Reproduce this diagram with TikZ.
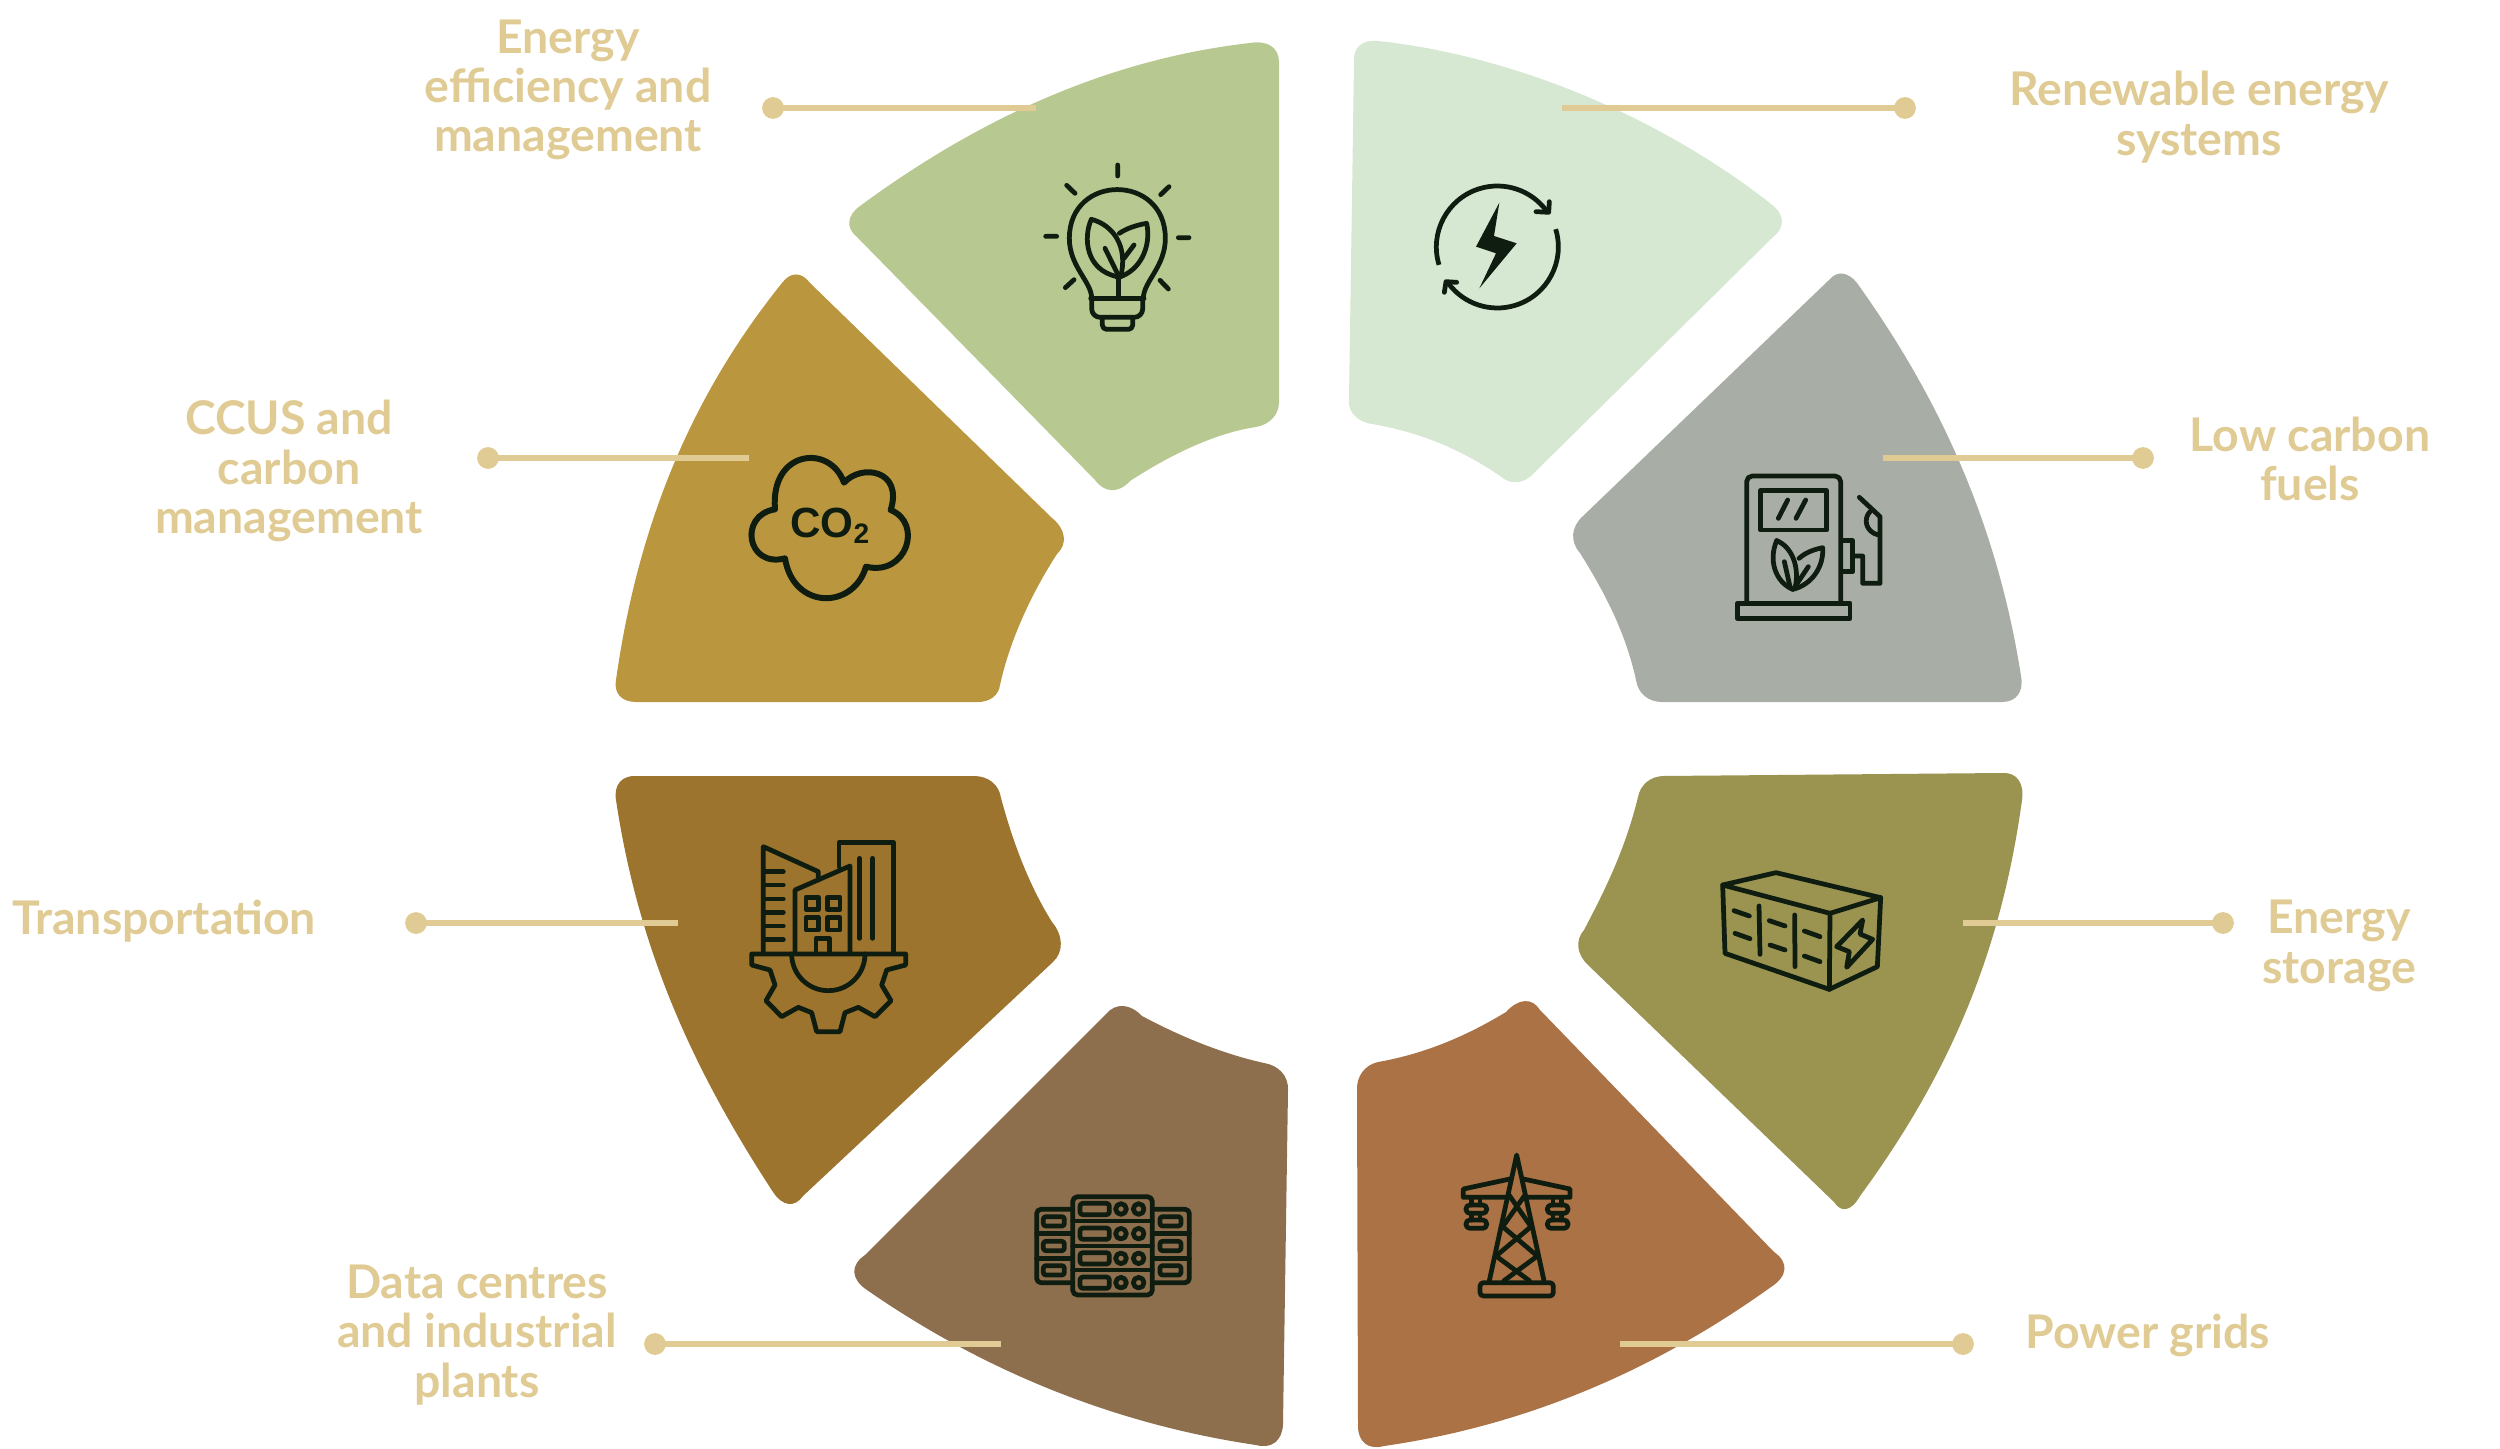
\documentclass[tikz,border=0pt]{standalone}
\usepackage{fontspec}
\setmainfont{Lato}
\newfontfamily\iconfont{Liberation Sans}
\usepackage{xcolor}
\usetikzlibrary{positioning,calc}
\definecolor{renewcol}{HTML}{D6E7D2}
\definecolor{fuelcol}{HTML}{A8AEA5}
\definecolor{storecol}{HTML}{9B9350}
\definecolor{gridcol}{HTML}{AA7245}
\definecolor{datacol}{HTML}{8D6F4E}
\definecolor{transcol}{HTML}{9C742D}
\definecolor{ccuscol}{HTML}{BA963F}
\definecolor{effcol}{HTML}{B7C891}
\definecolor{labelcol}{HTML}{DFCB93}
\definecolor{inkcol}{HTML}{0F1C10}
\tikzset{
  label/.style={align=center, text=labelcol, font=\fontsize{13.2}{14.05}\selectfont\bfseries, inner sep=0pt},
  dotnode/.style={circle, fill=labelcol, minimum size=6.2pt, inner sep=0pt},
  leader/.style={draw=labelcol, line width=1.65pt},
  ink/.style={draw=inkcol, line width=1.35pt, line join=round, line cap=round},
  icon/.style={shift={#1}, scale=1/3}
}
\def\rc(#1)(#2)(#3){.. controls ($(#1)!.6!(#2)$) and ($(#3)!.6!(#2)$) .. (#3)}
\begin{document}
\begin{tikzpicture}[x=0.01cm, y=-0.01cm]
  \useasboundingbox (0,0) rectangle (2500,1449);

  \fill[renewcol] (1378,41) .. controls (1510,55) and (1658,115) .. (1771,204)
    \rc(1771,204)(1794,221)(1773,237) -- (1535,472) \rc(1535,472)(1518,492)(1500,476)
    .. controls (1455,445) and (1412,431) .. (1372,424) \rc(1372,424)(1346,420)(1349,398)
    -- (1354,62) \rc(1354,62)(1352,38)(1378,41) -- cycle;
  \fill[fuelcol] (1857,283) .. controls (1930,385) and (1995,510) .. (2021,676)
    \rc(2021,676)(2026,702)(2002,702) -- (1662,702) \rc(1662,702)(1639,702)(1636,680)
    .. controls (1625,630) and (1603,590) .. (1580,553) \rc(1580,553)(1563,534)(1583,516)
    -- (1829,280) \rc(1829,280)(1842,264)(1857,283) -- cycle;
  \fill[storecol] (2003,773) -- (1664,776) \rc(1664,776)(1642,776)(1638,797)
    .. controls (1625,850) and (1605,890) .. (1584,930) \rc(1584,930)(1569,947)(1588,965)
    -- (1834,1202) \rc(1834,1202)(1846,1221)(1860,1196)
    .. controls (1945,1080) and (2000,960) .. (2022,800) \rc(2022,800)(2026,772)(2003,773) -- cycle;
  \fill[gridcol] (1774,1252) -- (1540,1010) \rc(1540,1010)(1527,989)(1506,1012)
    .. controls (1460,1040) and (1418,1055) .. (1378,1062) \rc(1378,1062)(1356,1067)(1357,1090)
    -- (1358,1426) \rc(1358,1426)(1358,1453)(1384,1446)
    .. controls (1530,1425) and (1658,1368) .. (1771,1287) \rc(1771,1287)(1799,1269)(1774,1252) -- cycle;
  \fill[datacol] (865,1255) -- (1106,1014) \rc(1106,1014)(1122,995)(1142,1016)
    .. controls (1187,1040) and (1228,1055) .. (1264,1063) \rc(1264,1063)(1289,1067)(1288,1090)
    -- (1283,1424) \rc(1283,1424)(1282,1452)(1256,1445)
    .. controls (1120,1425) and (988,1374) .. (867,1290) \rc(867,1290)(840,1272)(865,1255) -- cycle;
  \fill[transcol] (636,776) -- (974,776) \rc(974,776)(998,776)(1001,798)
    .. controls (1015,850) and (1032,890) .. (1052,922) \rc(1052,922)(1071,945)(1053,962)
    -- (803,1196) \rc(803,1196)(789,1216)(773,1192)
    .. controls (700,1080) and (640,960) .. (616,800) \rc(616,800)(612,775)(636,776) -- cycle;
  \fill[ccuscol] (636,702) -- (978,702) \rc(978,702)(998,702)(1000,685)
    .. controls (1012,630) and (1040,580) .. (1057,554) \rc(1057,554)(1075,537)(1052,518)
    -- (810,283) \rc(810,283)(796,264)(782,283)
    .. controls (700,385) and (640,510) .. (616,680) \rc(616,680)(612,702)(636,702) -- cycle;
  \fill[effcol] (1279,62) -- (1279,402) \rc(1279,402)(1279,423)(1256,427)
    .. controls (1215,433) and (1170,455) .. (1130,481) \rc(1130,481)(1111,502)(1095,480)
    -- (857,237) \rc(857,237)(838,222)(860,206)
    .. controls (970,125) and (1100,60) .. (1250,43) \rc(1250,43)(1279,38)(1279,62) -- cycle;

  \node[dotnode] (renewdot) at (1905,108) {};
  \node[dotnode] (fueldot) at (2143,458) {};
  \node[dotnode] (storedot) at (2223,923) {};
  \node[dotnode] (griddot) at (1963,1344) {};
  \node[dotnode] (datadot) at (655,1344) {};
  \node[dotnode] (transdot) at (416,923) {};
  \node[dotnode] (ccusdot) at (488,458) {};
  \node[dotnode] (effdot) at (773,108) {};
  \coordinate (renewend) at (1562,108);
  \coordinate (fuelend) at (1883,458);
  \coordinate (storeend) at (1963,923);
  \coordinate (gridend) at (1620,1344);
  \coordinate (dataend) at (1001,1344);
  \coordinate (transend) at (678,923);
  \coordinate (ccusend) at (749,458);
  \coordinate (effend) at (1036,108);
  \foreach \n in {renew,fuel,store,grid,data,trans,ccus,eff}
    \draw[leader] (\n dot.center) -- (\n end);

  \node[label] (renewlab) at (2199,117) {Renewable energy\\systems};
  \node[label] (fuellab) at (2310,459) {Low carbon\\fuels};
  \node[label] (storelab) at (2339,946) {Energy\\storage};
  \node[label] (gridlab) at (2148,1335) {Power grids};
  \node[label] (datalab) at (477,1335) {Data centres\\and industrial\\plants};
  \node[label] (translab) at (164,921) {Transportation};
  \node[label] (ccuslab) at (289,471) {CCUS and\\carbon\\management};
  \node[label] (efflab) at (568,90) {Energy\\efficiency and\\management};

  % bulb
  \begin{scope}[icon={(1000,130)}]
    \draw[ink] (353,105) -- (353,138) (200,166) -- (225,190) (507,170) -- (482,194)
      (137,319) -- (170,319) (535,323) -- (567,323) (222,449) -- (196,473) (480,451) -- (505,477);
    \draw[ink] (275,505) .. controls (275,455) and (208,410) .. (208,325)
      .. controls (208,130) and (496,130) .. (496,325) .. controls (496,410) and (430,455) .. (430,505);
    \draw[ink] (272,505) -- (432,505);
    \draw[ink, rounded corners=2.4pt] (275,505) -- (275,562) -- (428,562) -- (428,505);
    \draw[ink, rounded corners=1.2pt] (307,565) -- (307,598) -- (398,598) -- (398,565);
    \draw[ink] (355,445) -- (355,500);
    \draw[ink] (274,268) .. controls (250,320) and (255,420) .. (352,440);
    \draw[ink] (274,268) .. controls (340,285) and (385,350) .. (362,440);
    \draw[ink] (358,310) .. controls (380,295) and (410,285) .. (440,280) .. controls (455,350) and (420,425) .. (352,443);
    \draw[ink] (315,355) -- (352,430) (372,385) -- (402,345);
  \end{scope}

  % arrows and bolt
  \begin{scope}[icon={(1390,150)}]
    \draw[ink, line cap=butt] (322,291) ++(163:183) arc[start angle=163, end angle=324, radius=183];
    \draw[ink, line cap=butt] (322,291) ++(-17:183) arc[start angle=-17, end angle=143, radius=183];
    \draw[ink] (438,185) -- (476,187) -- (478,155);
    \draw[ink] (200,397) -- (168,395) -- (163,427);
    \fill[inkcol] (328,158) -- (312,258) -- (380,280) -- (268,415) -- (318,310) -- (258,290) -- cycle;
  \end{scope}

  % fuel pump
  \begin{scope}[icon={(1700,450)}]
    \draw[ink, rounded corners=1.6pt] (140,460) -- (140,78) -- (422,78) -- (422,460);
    \draw[ink] (112,460) rectangle (450,505);
    \draw[ink] (182,122) rectangle (380,240);
    \draw[ink] (235,205) -- (263,150) (288,205) -- (317,150);
    \draw[ink] (230,272) .. controls (205,330) and (225,395) .. (278,418);
    \draw[ink] (230,272) .. controls (275,290) and (300,350) .. (285,415);
    \draw[ink] (297,325) .. controls (320,305) and (345,298) .. (368,293) .. controls (372,350) and (335,405) .. (278,418);
    \draw[ink] (253,335) -- (270,410) (325,350) -- (285,410);
    \draw[ink] (425,272) -- (458,272) -- (458,365) -- (425,365);
    \draw[ink] (458,318) -- (488,318) -- (488,400) -- (540,400) -- (540,200) -- (478,142);
    \draw[ink] (510,185) .. controls (490,205) and (495,245) .. (535,255);
  \end{scope}

  % container
  \begin{scope}[icon={(1690,850)}]
    \draw[ink] (98,105) -- (258,68) -- (572,143) -- (420,190) -- cycle;
    \draw[ink] (98,105) -- (105,310) -- (418,418) -- (420,190);
    \draw[ink] (572,143) -- (562,350) -- (418,418);
    \draw[ink] (207,168) -- (210,313) (314,195) -- (315,350);
    \draw[ink] (132,182) -- (178,198) (135,250) -- (180,266) (238,212) -- (285,228)
      (240,285) -- (285,300) (343,243) -- (390,260) (343,318) -- (390,335);
    \draw[ink] (518,210) -- (510,252) -- (548,268) -- (470,352) -- (478,305) -- (440,290) -- cycle;
  \end{scope}

  % pylon
  \begin{scope}[icon={(1430,1130)}]
    \draw[ink] (178,452) -- (260,75) -- (342,452);
    \draw[ink, rounded corners=1pt] (150,458) rectangle (370,498);
    \draw[ink] (240,147) -- (100,177) -- (100,202) -- (228,202);
    \draw[ink] (280,147) -- (420,177) -- (420,202) -- (292,202);
    \draw[ink] (237,195) -- (303,290) -- (198,378) -- (298,452);
    \draw[ink] (285,195) -- (218,290) -- (322,378) -- (222,452);
    \foreach \dx in {0,244} {
      \draw[ink] (125+\dx,205) -- (125+\dx,225) (150+\dx,205) -- (150+\dx,225)
        (125+\dx,250) -- (125+\dx,270) (150+\dx,250) -- (150+\dx,270);
      \draw[ink, rounded corners=1.1pt] (108+\dx,225) rectangle (170+\dx,250);
      \draw[ink, rounded corners=1.1pt] (108+\dx,270) rectangle (170+\dx,295);
    }
  \end{scope}

  % server racks
  \begin{scope}[icon={(1020,1180)}]
    \draw[ink, rounded corners=1.4pt] (158,50) rectangle (397,345);
    \draw[ink] (158,123) -- (397,123) (158,198) -- (397,198) (158,270) -- (397,270);
    \foreach \ry in {87,161,235,308} {
      \draw[ink, rounded corners=0.8pt] (180,\ry-17) rectangle (268,\ry+17);
      \draw[ink] (303,\ry) circle (16) (356,\ry) circle (16);
    }
    \draw[ink, rounded corners=1.2pt] (155,88) -- (50,88) -- (50,308) -- (155,308);
    \draw[ink, rounded corners=1.2pt] (400,88) -- (508,88) -- (508,308) -- (400,308);
    \draw[ink] (50,160) -- (155,160) (50,235) -- (155,235) (400,160) -- (508,160) (400,235) -- (508,235);
    \foreach \ry in {124,198,271} {
      \draw[ink, rounded corners=0.7pt] (70,\ry-14) rectangle (133,\ry+14);
      \draw[ink, rounded corners=0.7pt] (420,\ry-14) rectangle (483,\ry+14);
    }
  \end{scope}

  % buildings on gear
  \begin{scope}[icon={(730,830)}]
    \draw[ink] (100,368) -- (100,50) -- (265,125) -- (265,150);
    \foreach \ty in {125,165,207,247,288,329}
      \draw[ink] (100,\ty) -- (160,\ty);
    \draw[ink] (195,368) -- (195,180) -- (360,108) -- (360,368);
    \draw[ink] (327,110) -- (327,38) -- (490,38) -- (490,368);
    \draw[ink] (389,85) -- (389,325) (428,85) -- (428,325);
    \draw[ink] (228,202) rectangle (265,238) (293,202) rectangle (330,238)
      (228,263) rectangle (265,300) (293,263) rectangle (330,300);
    \draw[ink] (258,368) -- (258,325) -- (298,325) -- (298,368);
    \draw[ink] (65,372) -- (527,372) -- (527,405) -- (470,420) -- (455,465) -- (483,512) -- (435,560)
      -- (385,532) -- (345,548) -- (330,605) -- (260,605) -- (245,548) -- (205,532) -- (155,560)
      -- (108,512) -- (135,465) -- (120,420) -- (65,405) -- cycle;
    \draw[ink] (185,372) arc[start angle=180, end angle=0, radius=110];
  \end{scope}

  % co2 cloud
  \begin{scope}[icon={(730,440)}]
    \draw[ink, line width=1.7pt] (135,208) .. controls (120,30) and (300,10) .. (342,128)
      .. controls (395,70) and (520,90) .. (482,210)
      .. controls (580,250) and (530,410) .. (408,380)
      .. controls (370,510) and (190,510) .. (165,355)
      .. controls (50,385) and (25,225) .. (135,208) -- cycle;
    \node[text=inkcol, inner sep=0pt, font=\iconfont\fontsize{12}{12}\selectfont\bfseries] (co2lab) at (302,258) {CO\textsubscript{2}};
  \end{scope}
\end{tikzpicture}
\end{document}
